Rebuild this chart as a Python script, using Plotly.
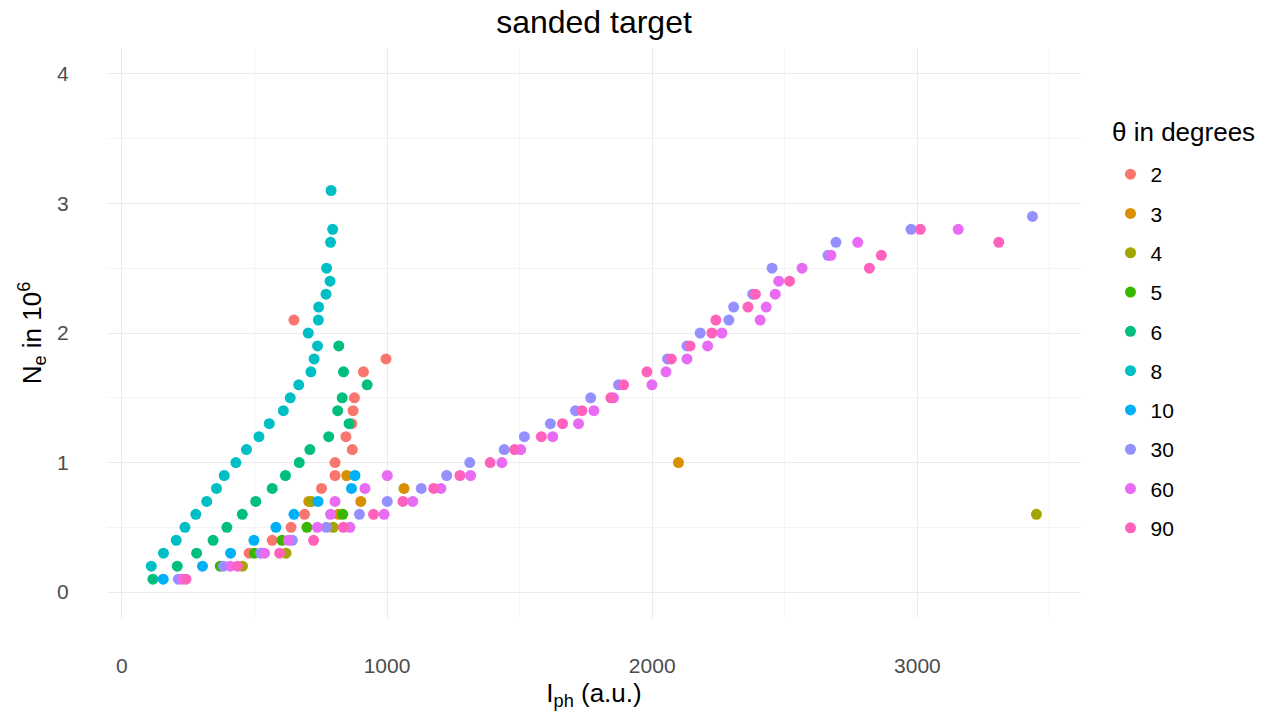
import plotly.graph_objects as go

# theta levels and ggplot hue colours
thetas = ["2", "3", "4", "5", "6", "8", "10", "30", "60", "90"]
colors = ["#F8766D", "#D89000", "#A3A500", "#39B600", "#00BF7D",
          "#00BFC4", "#00B0F6", "#9590FF", "#E76BF3", "#FF62BC"]

x_t2 = [649, 996, 911, 877, 872, 867, 845, 869, 804, 804, 753, 689, 638, 567, 480]
y_t2 = [2.1, 1.8, 1.7, 1.5, 1.4, 1.3, 1.2, 1.1, 1.0, 0.9, 0.8, 0.6, 0.5, 0.4, 0.3]

x_t3 = [848, 901, 817, 1064, 2099, 705]
y_t3 = [0.9, 0.7, 0.6, 0.8, 1.0, 0.7]

x_t4 = [716, 797, 619, 455, 3449]
y_t4 = [0.7, 0.5, 0.3, 0.2, 0.6]

x_t5 = [833, 698, 604, 500, 371]
y_t5 = [0.6, 0.5, 0.4, 0.3, 0.2]

x_t6 = [818, 836, 925, 831, 814, 857, 780, 709, 669, 617, 567, 505, 454, 396, 344, 282, 209, 117]
y_t6 = [1.9, 1.7, 1.6, 1.5, 1.4, 1.3, 1.2, 1.1, 1.0, 0.9, 0.8, 0.7, 0.6, 0.5, 0.4, 0.3, 0.2, 0.1]

x_t8 = [789, 795, 787, 772, 785, 770, 742, 741, 703, 738, 725, 713, 667, 635, 609,
        556, 517, 470, 430, 386, 357, 320, 279, 238, 205, 157, 111]
y_t8 = [3.1, 2.8, 2.7, 2.5, 2.4, 2.3, 2.2, 2.1, 2.0, 1.9, 1.8, 1.7, 1.6, 1.5, 1.4,
        1.3, 1.2, 1.1, 1.0, 0.9, 0.8, 0.7, 0.6, 0.5, 0.4, 0.3, 0.2]

x_t10 = [156, 304, 410, 498, 581, 649, 740, 866, 879]
y_t10 = [0.1, 0.2, 0.3, 0.4, 0.5, 0.6, 0.7, 0.8, 0.9]

x_t30 = [213, 383, 523, 643, 771, 896, 1001, 1129, 1225, 1312, 1442, 1518, 1616, 1711,
         1768, 1873, 2058, 2131, 2181, 2289, 2307, 2379, 2452, 2663, 2693, 2976, 3434]
y_t30 = [0.1, 0.2, 0.3, 0.4, 0.5, 0.6, 0.7, 0.8, 0.9, 1.0, 1.1, 1.2, 1.3, 1.4,
         1.5, 1.6, 1.8, 1.9, 2.0, 2.1, 2.2, 2.3, 2.5, 2.6, 2.7, 2.8, 2.9]

x_t60 = [228, 409, 538, 628, 737, 860, 787, 989, 804, 1097, 917, 1203, 1001, 1315,
         1433, 1504, 1625, 1722, 1780, 1854, 1999, 2052, 2131, 2209, 2263, 2407,
         2430, 2464, 2477, 2565, 2674, 2775, 3154]
y_t60 = [0.1, 0.2, 0.3, 0.4, 0.5, 0.5, 0.6, 0.6, 0.7, 0.7, 0.8, 0.8, 0.9, 0.9,
         1.0, 1.1, 1.2, 1.3, 1.4, 1.5, 1.6, 1.7, 1.8, 1.9, 2.0, 2.1,
         2.2, 2.3, 2.4, 2.5, 2.6, 2.7, 2.8]

x_t90 = [242, 436, 595, 723, 835, 949, 1060, 1176, 1275, 1389, 1481, 1582, 1662, 1735,
         1844, 1892, 1980, 2072, 2143, 2225, 2240, 2361, 2389, 2518, 2819, 2864, 3307, 3011]
y_t90 = [0.1, 0.2, 0.3, 0.4, 0.5, 0.6, 0.7, 0.8, 0.9, 1.0, 1.1, 1.2, 1.3, 1.4,
         1.5, 1.6, 1.7, 1.8, 1.9, 2.0, 2.1, 2.2, 2.3, 2.4, 2.5, 2.6, 2.7, 2.8]

xs = [x_t2, x_t3, x_t4, x_t5, x_t6, x_t8, x_t10, x_t30, x_t60, x_t90]
ys = [y_t2, y_t3, y_t4, y_t5, y_t6, y_t8, y_t10, y_t30, y_t60, y_t90]

x_ticks = [0, 1000, 2000, 3000]
y_ticks = [0, 1, 2, 3, 4]

FONT = "Liberation Sans, Arial, sans-serif"
OFF = 8  # page body margin offset

fig = go.Figure()
for th, col, xv, yv in zip(thetas, colors, xs, ys):
    fig.add_trace(go.Scatter(
        x=xv, y=yv, mode="markers", name=th, legendgroup=th,
        marker=dict(color=col, size=11, line=dict(width=0)),
    ))

grid = dict(showgrid=True, gridcolor="#EBEBEB", gridwidth=1.3, zeroline=False,
            showline=False, ticks="outside", tickcolor="rgba(0,0,0,0)",
            automargin=False,
            tickfont=dict(family=FONT, size=21, color="#4D4D4D"),
            minor=dict(showgrid=True, gridcolor="#F4F4F4", gridwidth=1))

fig.update_layout(
    width=1272, height=715,
    paper_bgcolor="white", plot_bgcolor="white",
    margin=dict(l=107 - OFF, r=191 + OFF, t=48 - OFF, b=97 + OFF, autoexpand=False),
    font=dict(family=FONT, color="black"),
    title=dict(text="sanded target", x=(594 - OFF) / 1272, xanchor="center",
               xref="container", yref="container",
               y=1 - (22 - OFF) / 715, yanchor="middle", font=dict(size=32, color="black")),
    xaxis=dict(range=[-56, 3617], tickvals=x_ticks, ticklen=29,
               title=dict(text="I<sub>ph</sub> (a.u.)", font=dict(size=26), standoff=7),
               **grid),
    yaxis=dict(range=[-0.2, 4.2], tickvals=y_ticks, ticklen=33,
               title=dict(text="N<sub>e</sub> in 10<sup>6</sup>", font=dict(size=26), standoff=8),
               **grid),
    legend=dict(x=1.02 + 10 / 974, xanchor="left", y=1 - (154 - 48) / 570, yanchor="top",
                font=dict(size=21), tracegroupgap=9, itemwidth=30,
                bgcolor="rgba(0,0,0,0)"),
    annotations=[dict(text="θ in degrees", xref="paper", yref="paper",
                      x=(1110 - 107) / 974, xanchor="left",
                      y=(618 - 132) / 570, yanchor="middle",
                      showarrow=False, font=dict(size=26, color="black"))],
)
fig.update_xaxes(minor=dict(tickvals=[500, 1500, 2500, 3500]))
fig.update_yaxes(minor=dict(tickvals=[0.5, 1.5, 2.5, 3.5]))

fig.write_html("out.html")
